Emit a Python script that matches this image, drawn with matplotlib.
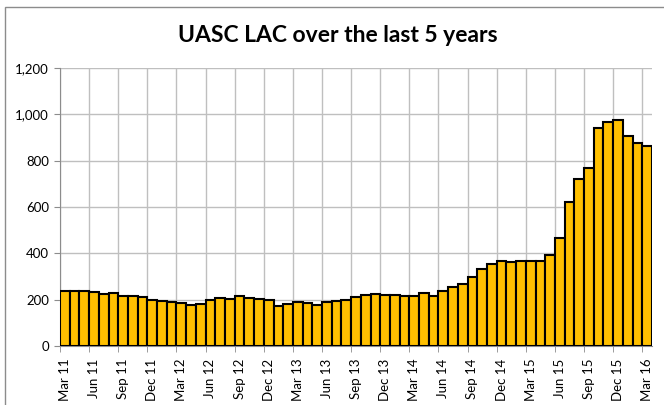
import matplotlib.pyplot as plt
import matplotlib.patches as patches
from matplotlib.ticker import FuncFormatter

# Monthly UASC looked-after children, Mar 2011 - Mar 2016
months = ['Mar', 'Apr', 'May', 'Jun', 'Jul', 'Aug', 'Sep', 'Oct', 'Nov', 'Dec', 'Jan', 'Feb']
values = [237, 239, 236, 233, 224, 230, 214, 214, 210, 197, 193, 189, 186, 178, 181, 197, 207, 205, 215, 207,
          203, 200, 173, 180, 189, 184, 177, 189, 196, 200, 210, 221, 224, 220, 219, 216, 216, 227, 217, 236,
          256, 267, 296, 332, 352, 366, 362, 366, 366, 366, 393, 468, 620, 721, 770, 943, 966, 976, 906, 876, 863]

# build month labels starting at Mar 11
labels = []
for i in range(len(values)):
    m = months[i % 12]
    yr = 11 + (i + 2) // 12
    labels.append(f'{m} {yr}')

plt.rcParams['font.family'] = ['Lato', 'DejaVu Sans']

fig = plt.figure(figsize=(6.64, 4.05), dpi=100)
ax = fig.add_axes([60 / 664, 1 - 346 / 405, 592 / 664, 278 / 405])

x = list(range(len(values)))
ax.bar(x, values, width=1.0, color='#FFC000', edgecolor='black', linewidth=1.5, zorder=3)

ax.set_xlim(-0.5, len(values) - 0.5)
ax.set_ylim(0, 1200)
ax.set_yticks(range(0, 1201, 200))
ax.yaxis.set_major_formatter(FuncFormatter(lambda v, p: f'{int(v):,}'))

# labels every 3 months on bar centres, tick marks/grid between bars
ax.set_xticks(x[::3])
ax.set_xticklabels(labels[::3], rotation=90)
ax.set_xticks([i - 0.5 for i in x[::3]], minor=True)
ax.tick_params(axis='x', which='major', length=0, pad=9, labelsize=9.5)
ax.tick_params(axis='x', which='minor', length=4, color='#8C8C8C')
ax.tick_params(axis='y', length=4, color='#8C8C8C', labelsize=9.5, pad=4)

ax.grid(True, which='minor', axis='x', color='#BFBFBF', linewidth=1, zorder=0)
ax.grid(True, which='major', axis='y', color='#BFBFBF', linewidth=1, zorder=0)

for s in ['top', 'right']:
    ax.spines[s].set_visible(False)
for s in ['left', 'bottom']:
    ax.spines[s].set_color('#8C8C8C')

fig.text(338 / 664, 1 - 36 / 405, 'UASC LAC over the last 5 years', ha='center', va='center',
         fontsize=16.5, fontweight='bold')

# chart area border (cropped at right and bottom)
fig.patches.append(patches.Rectangle((5 / 664, -0.1), 1.0, 1 - 7 / 405 + 0.1, transform=fig.transFigure,
                                     fill=False, edgecolor='#8C8C8C', linewidth=1))

fig.savefig('out.png', dpi=100)
